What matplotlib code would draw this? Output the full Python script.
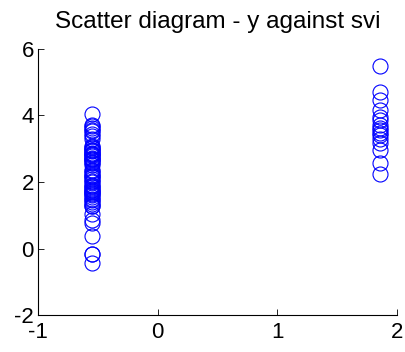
import numpy as np
import matplotlib
matplotlib.use("Agg")
import matplotlib.pyplot as plt

# svi (standardised) groups and y values
svi_levels = [-0.55, 1.855]
y_svi0 = [-0.43, -0.16, -0.16, 0.37, 0.77, 0.85, 1.05, 1.27, 1.27, 1.35, 1.40,
          1.45, 1.49, 1.56, 1.60, 1.64, 1.66, 1.70, 1.73, 1.77, 1.80, 1.85,
          1.89, 1.92, 2.01, 2.02, 2.09, 2.16, 2.19, 2.21, 2.28, 2.33, 2.37,
          2.52, 2.57, 2.59, 2.66, 2.68, 2.70, 2.72, 2.79, 2.81, 2.84, 2.85,
          2.88, 2.92, 2.96, 2.97, 3.01, 3.04, 3.08, 3.28, 3.39, 3.44, 3.52,
          3.57, 3.63, 3.68, 3.71, 4.05]
y_svi1 = [5.48, 4.72, 4.45, 4.15, 3.95, 3.85, 3.72, 3.62, 3.55, 3.48, 3.40,
          3.30, 3.17, 2.95, 2.58, 2.23]
xticks = [-1, 0, 1, 2]
yticks = [-2, 0, 2, 4, 6]

plt.rcParams['font.family'] = 'Liberation Sans'
plt.rcParams['font.size'] = 16
plt.rcParams['axes.unicode_minus'] = False

fig = plt.figure(figsize=(4.05, 3.52), dpi=100)
ax = fig.add_axes([0.094, 0.105, 0.886, 0.756])

x = [svi_levels[0]] * len(y_svi0) + [svi_levels[1]] * len(y_svi1)
y = y_svi0 + y_svi1
ax.plot(x, y, 'o', mfc='none', mec='blue', ms=10.8, mew=0.8, clip_on=False)

ax.set_xlim(-1, 2)
ax.set_ylim(-2, 6)
ax.set_xticks(xticks)
ax.set_yticks(yticks)
ax.spines['top'].set_visible(False)
ax.spines['right'].set_visible(False)
ax.spines['left'].set_linewidth(0.8)
ax.spines['bottom'].set_linewidth(0.8)
ax.tick_params(direction='in', length=4, width=0.6)
ax.tick_params(axis='x', pad=5)
ax.tick_params(axis='y', pad=3)
ax.set_title("Scatter diagram - y against svi", fontsize=17.5, pad=15)

fig.savefig("out.png", dpi=100)
